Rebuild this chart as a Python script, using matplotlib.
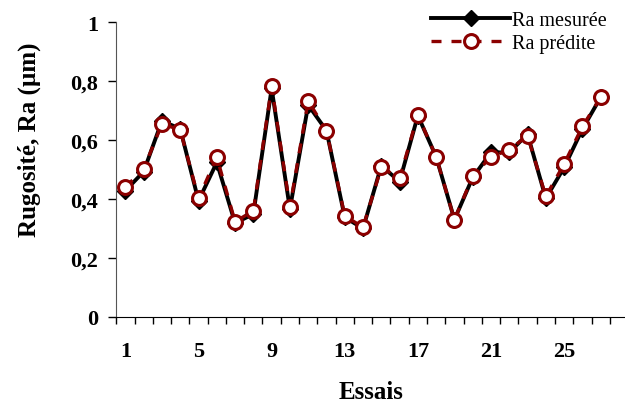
import matplotlib
matplotlib.use('Agg')
import matplotlib.pyplot as plt
from matplotlib.ticker import FixedLocator, NullFormatter

plt.rcParams['font.family'] = ['Liberation Serif', 'DejaVu Serif']

# données
essais = list(range(1, 28))
ra_mesuree = [0.428, 0.493, 0.665, 0.638, 0.394, 0.524, 0.318, 0.349, 0.775,
              0.366, 0.719, 0.632, 0.338, 0.300, 0.513, 0.459, 0.683, 0.543,
              0.330, 0.473, 0.558, 0.558, 0.620, 0.402, 0.507, 0.637, 0.745]
ra_predite = [0.440, 0.502, 0.654, 0.635, 0.402, 0.543, 0.323, 0.360, 0.782,
              0.374, 0.733, 0.632, 0.343, 0.304, 0.507, 0.471, 0.685, 0.543,
              0.330, 0.477, 0.543, 0.567, 0.615, 0.409, 0.519, 0.646, 0.745]
x_labels = [1, 5, 9, 13, 17, 21, 25]
y_ticks = [0, 0.2, 0.4, 0.6, 0.8, 1]
y_labels = ["0", "0,2", "0,4", "0,6", "0,8", "1"]

fig = plt.figure(figsize=(6.25, 4.06), dpi=100)
ax = fig.add_axes([0.186, 0.217, 0.816, 0.726])

ax.plot(essais, ra_mesuree, color="black", linewidth=2.8, marker="D",
        markersize=8.5, markerfacecolor="black", markeredgecolor="black",
        label="Ra mesurée", zorder=3)
ax.plot(essais, ra_predite, color="#8b0000", linewidth=2.4, linestyle=(0, (3, 3)),
        marker="o", markersize=10, markerfacecolor="white",
        markeredgecolor="#8b0000", markeredgewidth=2.2,
        label="Ra prédite", zorder=4)

ax.set_xlim(0.5, 28.4)
ax.set_ylim(0, 1)
ax.set_yticks(y_ticks)
ax.set_yticklabels(y_labels, fontsize=16, fontweight="bold")

# graduations entre les catégories, étiquettes centrées
ax.xaxis.set_major_locator(FixedLocator([i + 0.5 for i in range(0, 29)]))
ax.xaxis.set_major_formatter(NullFormatter())
ax.set_xticks(x_labels, minor=True)
ax.set_xticklabels([str(v) for v in x_labels], minor=True,
                   fontsize=16, fontweight="bold")
ax.tick_params(axis="x", which="major", direction="out", length=5, width=1)
ax.tick_params(axis="x", which="minor", length=0, pad=17)
ax.tick_params(axis="y", direction="out", length=6, width=1, pad=7)

for s in ["top", "right"]:
    ax.spines[s].set_visible(False)
ax.spines["left"].set_color("#555555")
ax.spines["bottom"].set_color("black")

ax.set_xlabel("Essais", fontsize=18, fontweight="bold")
ax.xaxis.set_label_coords(0.5, -0.215)
ax.set_ylabel("Rugosité, Ra (µm)", fontsize=18, fontweight="bold")
ax.yaxis.set_label_coords(-0.148, 0.603)

ax.legend(loc="upper right", bbox_to_anchor=(0.99, 1.0),
          bbox_transform=fig.transFigure, frameon=False,
          fontsize=14.5, handlelength=3.9, handletextpad=0.1,
          labelspacing=0.2, borderaxespad=0.2)

fig.savefig("out.png", dpi=100)
